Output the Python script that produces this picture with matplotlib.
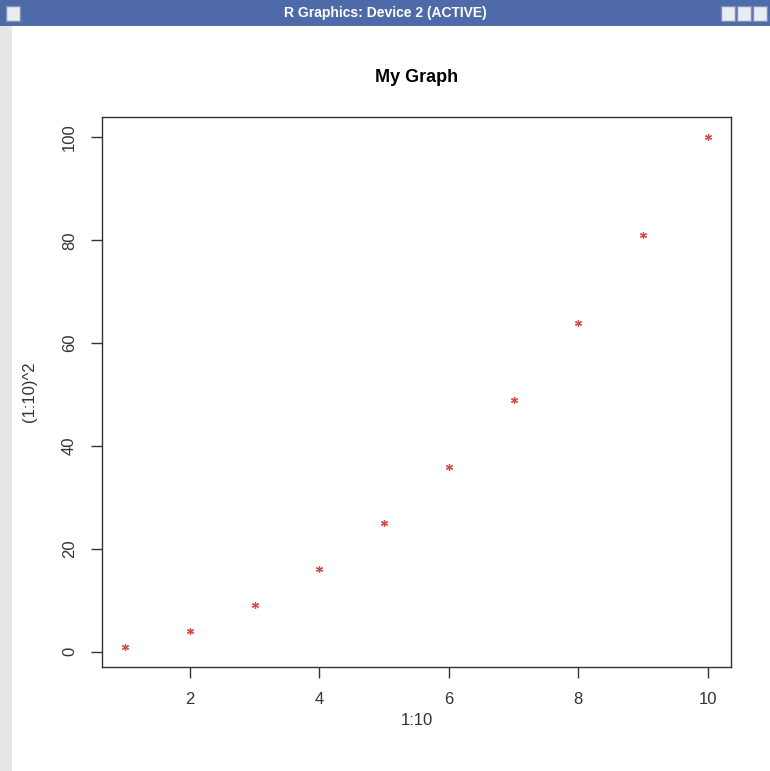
import matplotlib
matplotlib.use("Agg")
import matplotlib.pyplot as plt
from matplotlib.patches import Rectangle

plt.rcParams['font.family'] = ['Liberation Sans', 'DejaVu Sans']

x_vals = [1, 2, 3, 4, 5, 6, 7, 8, 9, 10]
y_vals = [1, 4, 9, 16, 25, 36, 49, 64, 81, 100]
x_ticks = [2, 4, 6, 8, 10]
y_ticks = [0, 20, 40, 60, 80, 100]
title = "My Graph"
xlabel = "1:10"
ylabel = "(1:10)^2"
window_title = "R Graphics: Device 2 (ACTIVE)"

W, H = 770, 771
fig = plt.figure(figsize=(W / 100, H / 100), dpi=100)
fig.patch.set_facecolor("white")

# window decorations
fig.add_artist(Rectangle((0, 1 - 26 / H), 1, 26 / H, transform=fig.transFigure,
                         facecolor="#4f6aa8", edgecolor="none"))
fig.add_artist(Rectangle((0, 0), 12 / W, 1 - 26 / H, transform=fig.transFigure,
                         facecolor="#e6e6e6", edgecolor="none"))
fig.text(0.5, 1 - 13 / H, window_title, color="white", fontsize=10,
         fontweight="bold", ha="center", va="center")
for bx in [6, 721, 737, 753]:
    fig.add_artist(Rectangle((bx / W, 1 - 21 / H), 14 / W, 15 / H, transform=fig.transFigure,
                             facecolor="#e8ecf4", edgecolor="#8090b0"))

left, right, top, bottom = 102, 731, 117, 667
ax = fig.add_axes([left / W, 1 - bottom / H, (right - left) / W, (bottom - top) / H])
ax.plot(x_vals, y_vals, linestyle="none", marker=(6, 2, 0), markersize=5,
        markeredgecolor="#d84848", markeredgewidth=0.9, color="#d84848")

ax.set_xlim(1 - 0.36, 10 + 0.36)
ax.set_ylim(1 - 3.96, 100 + 3.96)
ax.set_xticks(x_ticks)
ax.set_yticks(y_ticks)
ax.set_xticklabels([str(t) for t in x_ticks])
ax.set_yticklabels([str(t) for t in y_ticks], rotation=90, va="center")
ax.tick_params(direction="out", length=8, width=1, colors="#333333",
               labelsize=12, pad=10, labelcolor="#333333")
for s in ax.spines.values():
    s.set_color("#333333")
    s.set_linewidth(1.0)

ax.set_title(title, fontsize=13, fontweight="bold", pad=25)
ax.set_xlabel(xlabel, fontsize=12, color="#333333", labelpad=4)
ax.set_ylabel(ylabel, fontsize=12, color="#333333", labelpad=18)

fig.savefig("out.png", dpi=100)
